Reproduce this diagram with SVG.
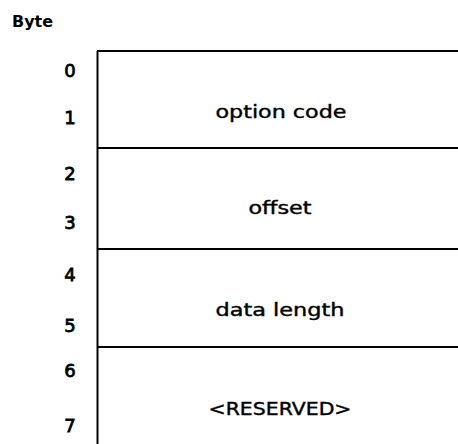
<svg xmlns="http://www.w3.org/2000/svg" width="458" height="444" viewBox="0 0 458 444">
  <style>
    .rule { stroke: #000; stroke-width: 2; fill: none; }
    .num { font-family: "DejaVu Sans", sans-serif; font-size: 18px; fill: #000; stroke: #000; stroke-width: 0.8; text-anchor: middle; }
    .field { font-family: "DejaVu Sans", sans-serif; font-size: 17px; fill: #000; stroke: #000; stroke-width: 0.4; text-anchor: middle; }
    .head { font-family: "DejaVu Sans", sans-serif; font-size: 15px; font-weight: bold; fill: #000; }
  </style>
  <rect width="458" height="444" fill="#fff"/>
  <text class="head" x="12" y="27" textLength="41" lengthAdjust="spacingAndGlyphs">Byte</text>

  <!-- byte offsets -->
  <g id="byte-numbers">
    <text class="num" x="70" y="77">0</text>
    <text class="num" x="70" y="124">1</text>
    <text class="num" x="70" y="180">2</text>
    <text class="num" x="70" y="229">3</text>
    <text class="num" x="70" y="281">4</text>
    <text class="num" x="70" y="332">5</text>
    <text class="num" x="70" y="377">6</text>
    <text class="num" x="70" y="432">7</text>
  </g>

  <!-- field boundaries -->
  <g id="rules">
    <path class="rule" d="M97.5,51 V444"/>
    <path class="rule" d="M97,51 H458"/>
    <path class="rule" d="M97,148 H458"/>
    <path class="rule" d="M97,249 H458"/>
    <path class="rule" d="M97,347 H458"/>
  </g>

  <g id="field-option-code">
    <text class="field" x="281" y="118" textLength="131" lengthAdjust="spacingAndGlyphs">option code</text>
  </g>
  <g id="field-offset">
    <text class="field" x="280" y="214" textLength="63" lengthAdjust="spacingAndGlyphs">offset</text>
  </g>
  <g id="field-data-length">
    <text class="field" x="280" y="316" textLength="129" lengthAdjust="spacingAndGlyphs">data length</text>
  </g>
  <g id="field-reserved">
    <text class="field" x="280" y="415" textLength="143" lengthAdjust="spacingAndGlyphs">&lt;RESERVED&gt;</text>
  </g>
</svg>
